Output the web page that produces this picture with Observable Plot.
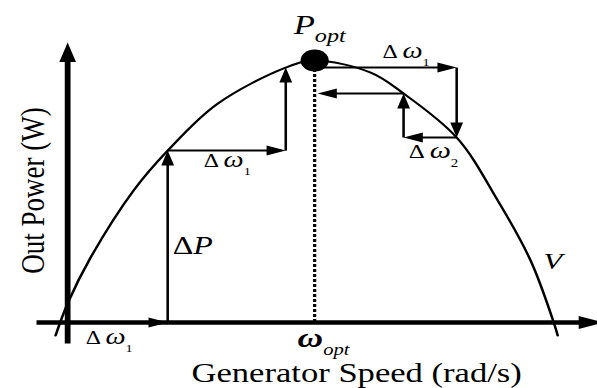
<!DOCTYPE html>
<html>
<head>
<meta charset="utf-8">
<script src="https://cdn.jsdelivr.net/npm/d3@7"></script>
<script src="https://cdn.jsdelivr.net/npm/@observablehq/plot@0.6"></script>
<style>
  html, body { margin: 0; padding: 0; background: #fff; overflow: hidden; }
  #chart svg { transform-origin: 0 0; }
</style>
</head>
<body>
<div id="chart"></div>
<script>
// Power–speed characteristic of the generator (speed and power relative to the optimum)
const curveSpeed = [-0.049, 0, 0.093, 0.267, 0.405, 0.607, 0.883, 1.0, 1.227, 1.36, 1.575, 1.741, 1.874, 1.968, 1.984];
const curvePower = [-0.05, 0.073, 0.248, 0.504, 0.656, 0.835, 0.973, 1.0, 0.954, 0.874, 0.706, 0.466, 0.237, 0, -0.05];

// Optimum operating point
const optSpeed = 1.0;
const optPower = 1.0;

// Hill-climb search climbing from the left of the optimum
const climbSpeed = [0, 0.405, 0.405, 0.883, 0.883];
const climbPower = [0, 0, 0.656, 0.656, 0.973];

// Search stepping back from the right of the optimum
const returnSpeed = [1.0, 1.575, 1.575, 1.36, 1.36, 1.012];
const returnPower = [0.973, 0.973, 0.706, 0.706, 0.874, 0.874];

// Axis extents
const axisSpeed = [-0.126, 2.17];
const axisPower = [-0.08, 1.069];

// Annotations: n = upright, i = italic, w = large italic, b = large bold italic,
// s = subscript, S = italic subscript
const labelText  = ["nΔ|iP", "nΔ |wω|s1", "nΔ |wω|s1", "nΔ |wω|s2", "nΔ |wω|s1", "iP|Sopt", "bω|Sopt", "iV|"];
const labelSpeed = [0.425, 0.551, 1.275, 1.381, 0.073, 0.915, 0.931, 1.927];
const labelPower = [0.263, 0.592, 1.008, 0.626, -0.084, 1.103, -0.095, 0.206];
const labelSize  = [25, 18.5, 18.5, 19.5, 18.5, 27, 23, 24];

const xTitle = "Generator Speed (rad/s)";
const yTitle = "Out Power (W)";

// ---- build tables ----
const curve = curveSpeed.map((s, i) => ({s, p: curvePower[i]}));

function segmentsOf(speeds, powers) {
  const out = [];
  for (let i = 1; i < speeds.length; i++) {
    out.push({x1: speeds[i - 1], y1: powers[i - 1], x2: speeds[i], y2: powers[i]});
  }
  return out;
}
const steps = [...segmentsOf(climbSpeed, climbPower), ...segmentsOf(returnSpeed, returnPower)];
const axes = [
  {x1: axisSpeed[0], y1: 0, x2: axisSpeed[1], y2: 0},
  {x1: 0, y1: axisPower[0], x2: 0, y2: axisPower[1]}
];
const labels = labelText.map((t, i) => ({t, s: labelSpeed[i], p: labelPower[i], size: labelSize[i]}));

// heading of a segment, in degrees clockwise from "up"
const heading = d => d.x2 > d.x1 ? 90 : d.x2 < d.x1 ? 270 : d.y2 > d.y1 ? 0 : 180;

// filled arrowhead with its tip at the origin, pointing up
const head = {
  draw(ctx, size) {
    const r = Math.sqrt(size / Math.PI);
    ctx.moveTo(0, 0);
    ctx.lineTo(r, 3 * r);
    ctx.lineTo(-r, 3 * r);
    ctx.closePath();
  }
};

const W = 466, H = 388, STRETCH = 597 / 466;

const chart = Plot.plot({
  width: W,
  height: H,
  margin: 0,
  x: {domain: [-0.2713, 2.1457], range: [0, W], axis: null},
  y: {domain: [-0.252, 1.229], range: [H, 0], axis: null},
  style: {fontFamily: "'Liberation Serif', 'Times New Roman', serif", background: "white", color: "black", overflow: "visible"},
  marks: [
    // axes
    Plot.arrow(axes, {x1: "x1", y1: "y1", x2: "x2", y2: "y2", headLength: 0, insetEnd: 12,
      stroke: "black", strokeWidth: 4.5, strokeLinecap: "butt"}),
    Plot.dot(axes, {x: "x2", y: "y2", symbol: head, r: 6.5, rotate: heading, fill: "black", stroke: "none"}),

    // power curve
    Plot.line(curve, {x: "s", y: "p", curve: "catmull-rom", stroke: "black", strokeWidth: 2}),

    // search steps
    Plot.arrow(steps, {x1: "x1", y1: "y1", x2: "x2", y2: "y2", headLength: 0, insetEnd: 8,
      stroke: "black", strokeWidth: 2, strokeLinecap: "butt"}),
    Plot.dot(steps, {x: "x2", y: "y2", symbol: head, r: 5, rotate: heading, fill: "black", stroke: "none"}),

    // optimum marker and its speed
    Plot.ruleX([optSpeed], {y1: 0, y2: optPower, stroke: "black", strokeWidth: 2.5, strokeDasharray: "3,2"}),
    Plot.dot([{s: optSpeed, p: optPower}], {x: "s", y: "p", r: 11, fill: "black", stroke: "none"}),

    // annotations
    Plot.text(labels, {x: "s", y: "p", text: "t", fontSize: "size", textAnchor: "start", lineAnchor: "bottom", fill: "black"}),

    // axis titles
    Plot.text([xTitle], {x: 1.17, y: -0.229, text: d => d, fontSize: 27, textAnchor: "middle", lineAnchor: "bottom", fill: "black"}),
    Plot.text([yTitle], {x: -0.142, y: 0.504, text: d => d, fontSize: 27, rotate: -90, textAnchor: "middle", lineAnchor: "middle", fill: "black"})
  ]
});

// turn the coded annotation strings into styled tspans
const NS = "http://www.w3.org/2000/svg";
d3.select(chart).selectAll("text").filter(function() { return this.textContent.includes("|"); }).each(function() {
  const src = this.textContent;
  while (this.firstChild) this.removeChild(this.firstChild);
  for (const tok of src.split("|")) {
    if (!tok) continue;
    const code = tok[0], str = tok.slice(1);
    const t = document.createElementNS(NS, "tspan");
    t.textContent = str;
    if ("iSwb".includes(code)) t.setAttribute("font-style", "italic");
    if (code === "w" || code === "b") t.setAttribute("font-size", "1.2em");
    if (code === "b") t.setAttribute("font-weight", "bold");
    if (code === "s") { t.setAttribute("font-size", "0.6em"); t.setAttribute("dy", "0.7em"); }
    if (code === "S") { t.setAttribute("font-size", "0.7em"); t.setAttribute("dy", "0.45em"); }
    this.appendChild(t);
  }
});

chart.style.transform = `scaleX(${STRETCH})`;
chart.style.transformOrigin = "0 0";
document.getElementById("chart").appendChild(chart);
</script>
</body>
</html>
